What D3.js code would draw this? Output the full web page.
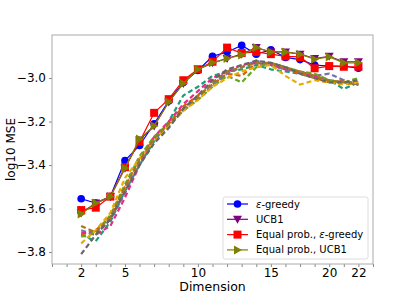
<!DOCTYPE html>
<html>
<head>
<meta charset="utf-8">
<script src="https://cdn.jsdelivr.net/npm/d3@7"></script>
<style>
  body { margin: 0; background: #fff; }
  svg { font-family: "DejaVu Sans", sans-serif; }
</style>
</head>
<body>
<div id="chart"></div>
<script>
// dimensions on the x axis (one point per entry, evenly spaced)
var dims = [2, 3, 4, 5, 6, 7, 8, 9, 10, 11, 12, 13, 14, 15, 16, 17, 18, 20, 21, 22];
var tickLabels = [2, 5, 10, 15, 20, 22];
var yTicks = [-3.8, -3.6, -3.4, -3.2, -3.0];

var epsGreedy = [-3.555, -3.575, -3.545, -3.38, -3.31, -3.21, -3.105, -3.02, -2.965, -2.90, -2.88, -2.85, -2.89, -2.87, -2.905, -2.915, -2.94, -2.945, -2.945, -2.955];
var ucb1 = [-3.62, -3.575, -3.545, -3.415, -3.285, -3.22, -3.11, -3.025, -2.96, -2.93, -2.91, -2.89, -2.86, -2.88, -2.88, -2.89, -2.91, -2.90, -2.925, -2.925];
var eqEps = [-3.607, -3.596, -3.545, -3.41, -3.293, -3.16, -3.097, -3.01, -2.96, -2.925, -2.86, -2.885, -2.88, -2.89, -2.90, -2.903, -2.955, -2.945, -2.948, -2.948];
var eqUcb = [-3.625, -3.575, -3.545, -3.415, -3.28, -3.22, -3.11, -3.025, -2.96, -2.93, -2.91, -2.894, -2.86, -2.88, -2.88, -2.89, -2.913, -2.903, -2.93, -2.93];

// dashed background runs
var dashTeal = [-3.72, -3.75, -3.66, -3.52, -3.40, -3.29, -3.20, -3.08, -3.04, -2.99, -2.97, -2.96, -2.94, -2.96, -2.97, -2.98, -3.00, -3.01, -3.05, -3.02];
var dashOrange = [-3.72, -3.70, -3.64, -3.50, -3.37, -3.27, -3.21, -3.13, -3.08, -3.03, -2.98, -2.99, -2.93, -2.94, -2.96, -2.98, -3.00, -3.02, -3.01, -3.03];
var dashPurple = [-3.70, -3.72, -3.65, -3.53, -3.39, -3.29, -3.22, -3.15, -3.09, -3.03, -2.98, -2.95, -2.92, -2.94, -2.96, -2.97, -2.99, -2.98, -3.01, -3.03];
var dashPink = [-3.71, -3.72, -3.68, -3.55, -3.40, -3.27, -3.20, -3.12, -3.06, -3.00, -2.97, -2.94, -2.93, -2.94, -2.96, -2.97, -2.99, -3.01, -3.02, -3.02];
var dashGreen = [-3.73, -3.71, -3.63, -3.49, -3.36, -3.27, -3.21, -3.15, -3.10, -3.04, -2.99, -3.02, -2.95, -2.93, -2.95, -2.97, -2.98, -3.01, -3.02, -3.00];
var dashGold = [-3.76, -3.70, -3.62, -3.46, -3.37, -3.29, -3.22, -3.15, -3.10, -3.04, -3.00, -2.97, -2.95, -2.94, -2.99, -3.03, -3.01, -3.02, -3.03, -3.02];
var dashBrown = [-3.68, -3.71, -3.64, -3.50, -3.38, -3.28, -3.21, -3.14, -3.09, -3.02, -2.97, -2.95, -2.93, -2.93, -2.95, -2.97, -2.99, -3.01, -3.02, -3.03];
var dashGray = [-3.81, -3.72, -3.65, -3.52, -3.40, -3.30, -3.23, -3.14, -3.08, -3.01, -2.96, -2.94, -2.92, -2.93, -2.95, -2.98, -3.00, -3.02, -3.02, -3.01];

var dashed = [
    { values: dashTeal, color: "#1b9e77" },
    { values: dashOrange, color: "#d95f02" },
    { values: dashPurple, color: "#7570b3" },
    { values: dashPink, color: "#e7298a" },
    { values: dashGreen, color: "#66a61e" },
    { values: dashGold, color: "#e6ab02" },
    { values: dashBrown, color: "#a6761d" },
    { values: dashGray, color: "#666666" }
];

var series = [
    { name: "greedy", prefix: "", values: epsGreedy, color: "blue", marker: "circle" },
    { name: "UCB1", prefix: "", values: ucb1, color: "purple", marker: "down" },
    { name: "greedy", prefix: "Equal prob., ", values: eqEps, color: "red", marker: "square" },
    { name: "UCB1", prefix: "Equal prob., ", values: eqUcb, color: "olive", marker: "right" }
];

var width = 415, height = 297;
var margin = { top: 35, right: 42, bottom: 33, left: 52 };
var plotW = width - margin.left - margin.right;
var plotH = height - margin.top - margin.bottom;

var x = d3.scaleLinear().domain([-2, 20]).range([0, plotW]);
var y = d3.scaleLinear().domain([-3.855, -2.802]).range([plotH, 0]);

var svg = d3.select("#chart").append("svg")
    .attr("width", width)
    .attr("height", height);

var g = svg.append("g")
    .attr("transform", "translate(" + margin.left + "," + margin.top + ")");

g.append("defs").append("clipPath").attr("id", "clip")
    .append("rect").attr("width", plotW).attr("height", plotH);

// x axis: a tick at every index, labels only on selected dimensions
var xAxis = d3.axisBottom(x)
    .tickValues(d3.range(-2, 21))
    .tickSize(3)
    .tickPadding(1)
    .tickFormat(function (i) {
        var d = dims[i];
        return (d !== undefined && tickLabels.indexOf(d) >= 0) ? d : "";
    });

var gx = g.append("g")
    .attr("transform", "translate(0," + plotH + ")")
    .call(xAxis);

var yAxis = d3.axisLeft(y)
    .tickValues(yTicks)
    .tickSize(3)
    .tickFormat(function (d) { return d.toFixed(1).replace("-", "\u2212"); });

var gy = g.append("g").call(yAxis);

[gx, gy].forEach(function (a) {
    a.select(".domain").remove();
    a.selectAll(".tick line").attr("stroke", "#888");
    a.selectAll(".tick text")
        .attr("fill", "#000")
        .style("font-family", "DejaVu Sans")
        .style("font-size", "12px");
});

// frame
g.append("rect")
    .attr("width", plotW)
    .attr("height", plotH)
    .attr("fill", "none")
    .attr("stroke", "#aaa")
    .attr("stroke-width", 1);

var line = d3.line()
    .x(function (d, i) { return x(i); })
    .y(function (d) { return y(d); });

var plot = g.append("g").attr("clip-path", "url(#clip)");

plot.selectAll(".dash")
    .data(dashed)
    .enter()
    .append("path")
    .attr("class", "dash")
    .attr("d", function (d) { return line(d.values); })
    .attr("fill", "none")
    .attr("stroke", function (d) { return d.color; })
    .attr("stroke-width", 2.2)
    .attr("stroke-dasharray", "5,3");

function markerPath(type) {
    if (type === "circle") return d3.symbol().type(d3.symbolCircle).size(46)();
    if (type === "square") return "M-4,-4L4,-4L4,4L-4,4Z";
    if (type === "down") return "M-4.5,-3.5L4.5,-3.5L0,4.5Z";
    return "M-3.5,-4.5L-3.5,4.5L4.5,0Z";
}

var sg = plot.selectAll(".series")
    .data(series)
    .enter()
    .append("g")
    .attr("class", "series");

sg.append("path")
    .attr("d", function (d) { return line(d.values); })
    .attr("fill", "none")
    .attr("stroke", function (d) { return d.color; })
    .attr("stroke-width", 1.2);

sg.each(function (s) {
    d3.select(this).selectAll("path.mk")
        .data(s.values)
        .enter()
        .append("path")
        .attr("class", "mk")
        .attr("d", markerPath(s.marker))
        .attr("transform", function (d, i) { return "translate(" + x(i) + "," + y(d) + ")"; })
        .attr("fill", s.color);
});

// axis titles
svg.append("text")
    .attr("x", margin.left + plotW / 2)
    .attr("y", 291)
    .attr("text-anchor", "middle")
    .style("font-size", "12.5px")
    .text("Dimension");

svg.append("text")
    .attr("transform", "translate(11," + (margin.top + plotH / 2) + ") rotate(-90)")
    .attr("text-anchor", "middle")
    .attr("dy", "0.35em")
    .style("font-size", "12px")
    .text("log10 MSE");

// legend
var lg = svg.append("g").attr("transform", "translate(223,197)");
lg.append("rect")
    .attr("width", 145)
    .attr("height", 62)
    .attr("rx", 2)
    .attr("fill", "#fff")
    .attr("fill-opacity", 0.85)
    .attr("stroke", "#ddd");

var item = lg.selectAll(".item")
    .data(series)
    .enter()
    .append("g")
    .attr("class", "item")
    .attr("transform", function (d, i) { return "translate(0," + (7 + i * 15.3) + ")"; });

item.append("line")
    .attr("x1", 4).attr("x2", 25)
    .attr("stroke", function (d) { return d.color; })
    .attr("stroke-width", 1.2);

item.append("path")
    .attr("d", function (d) { return markerPath(d.marker); })
    .attr("transform", "translate(14.5,0)")
    .attr("fill", function (d) { return d.color; });

var lt = item.append("text")
    .attr("x", 33)
    .attr("dy", "0.35em")
    .style("font-size", "10px");

lt.append("tspan").text(function (d) { return d.prefix; });
lt.filter(function (d) { return d.name === "greedy"; })
    .append("tspan").style("font-style", "italic").text("\u03b5");
lt.append("tspan").text(function (d) { return d.name === "greedy" ? "-greedy" : d.name; });
</script>
</body>
</html>
